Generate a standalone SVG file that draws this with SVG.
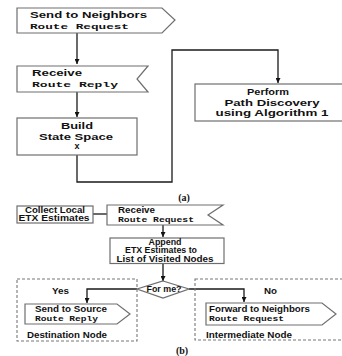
<svg xmlns="http://www.w3.org/2000/svg" width="342" height="356" viewBox="0 0 342 356">
<defs>
<marker id="ah" viewBox="0 0 6 6" refX="6" refY="3" markerWidth="5" markerHeight="5" orient="auto" markerUnits="userSpaceOnUse">
<path d="M0,0 L6,3 L0,6 z" fill="#111"/>
</marker>
<style>
.box{fill:#fff;stroke:#6e6e6e;stroke-width:1.2}
.dash{fill:none;stroke:#777;stroke-width:1.1;stroke-dasharray:3,2}
.ln{fill:none;stroke:#1a1a1a;stroke-width:1.3}
.t{font-family:"Liberation Sans",Arial,sans-serif;font-weight:bold;font-size:9px;fill:#111}
.m{font-family:"Liberation Mono","Courier New",monospace;font-weight:bold;font-size:8px;fill:#111}
.c{text-anchor:middle}
.cap{font-family:"Liberation Serif","Times New Roman",serif;font-weight:bold;font-size:10px;fill:#111;text-anchor:middle}
</style>
</defs>
<rect width="342" height="356" fill="#fff"/>
<g id="connectors">
<path class="ln" d="M77,33 V64" marker-end="url(#ah)"/>
<path class="ln" d="M77,92 V117" marker-end="url(#ah)"/>
<path class="ln" d="M77,155 V182 H172 V50 H278 V83" marker-end="url(#ah)"/>
<path class="ln" d="M93,214 H107"/>
<path class="ln" d="M163,225 V237" marker-end="url(#ah)"/>
<path class="ln" d="M163,263 V281" marker-end="url(#ah)"/>
<path class="ln" d="M137,289 H87 V303" marker-end="url(#ah)"/>
<path class="ln" d="M189,289 H244 V302" marker-end="url(#ah)"/>
</g>
<g id="send-neighbors">
<path class="box" d="M17,8 H162 L175,20 L162,33 H17 Z"/>
<text class="t" x="30" y="18" textLength="117" lengthAdjust="spacingAndGlyphs">Send to Neighbors</text>
<text class="m" x="30" y="29" textLength="99" lengthAdjust="spacingAndGlyphs">Route Request</text>
</g>
<g id="receive-reply">
<path class="box" d="M17,66 H148 L137,79 L148,92 H17 Z"/>
<text class="t" x="32" y="76" textLength="50" lengthAdjust="spacingAndGlyphs">Receive</text>
<text class="m" x="32" y="87" textLength="86" lengthAdjust="spacingAndGlyphs">Route Reply</text>
</g>
<g id="build">
<rect class="box" x="17" y="118" width="120" height="37"/>
<text class="t c" x="77" y="129" textLength="32" lengthAdjust="spacingAndGlyphs">Build</text>
<text class="t c" x="76" y="140" textLength="74" lengthAdjust="spacingAndGlyphs">State Space</text>
<text class="t c" x="77" y="149">x</text>
</g>
<g id="perform">
<rect class="box" x="195" y="84" width="150" height="37"/>
<text class="t c" x="268" y="95" textLength="42" lengthAdjust="spacingAndGlyphs">Perform</text>
<text class="t c" x="272" y="106" textLength="95" lengthAdjust="spacingAndGlyphs">Path Discovery</text>
<text class="t c" x="272" y="116" textLength="113" lengthAdjust="spacingAndGlyphs">using Algorithm 1</text>
</g>
<text class="cap" x="184" y="201">(a)</text>
<g id="collect">
<rect class="box" x="17" y="206" width="76" height="17"/>
<text class="t c" x="55" y="212.5" font-size="6.5" textLength="60" lengthAdjust="spacingAndGlyphs">Collect Local</text>
<text class="t c" x="54" y="221" font-size="6.5" textLength="71" lengthAdjust="spacingAndGlyphs">ETX Estimates</text>
</g>
<g id="receive-request">
<path class="box" d="M107,205 H223 L208,215 L223,225 H107 Z"/>
<text class="t" x="118" y="213" font-size="8" textLength="37" lengthAdjust="spacingAndGlyphs">Receive</text>
<text class="m" x="118" y="222" font-size="7" textLength="76" lengthAdjust="spacingAndGlyphs">Route Request</text>
</g>
<g id="append">
<rect class="box" x="110" y="238" width="114" height="25.5"/>
<text class="t c" x="165" y="244.5" font-size="6.5" textLength="33" lengthAdjust="spacingAndGlyphs">Append</text>
<text class="t c" x="161" y="253" font-size="6.5" textLength="72" lengthAdjust="spacingAndGlyphs">ETX Estimates to</text>
<text class="t c" x="165" y="261.5" font-size="6.5" textLength="97" lengthAdjust="spacingAndGlyphs">List of Visited Nodes</text>
</g>
<g id="for-me">
<path class="box" d="M163,281 L189,289 L163,298 L137,289 Z"/>
<text class="t c" x="164" y="292" font-size="8" textLength="35" lengthAdjust="spacingAndGlyphs">For me?</text>
</g>
<g id="destination">
<rect class="dash" x="17" y="279" width="120" height="62"/>
<text class="t" x="52" y="294" font-size="8" textLength="17" lengthAdjust="spacingAndGlyphs">Yes</text>
<path class="box" d="M25,304 H117 L130,314 L117,324 H25 Z"/>
<text class="t" x="35" y="312" font-size="8" textLength="72" lengthAdjust="spacingAndGlyphs">Send to Source</text>
<text class="m" x="35" y="321" font-size="7" textLength="63" lengthAdjust="spacingAndGlyphs">Route Reply</text>
<text class="t" x="27" y="338" font-size="8" textLength="80" lengthAdjust="spacingAndGlyphs">Destination Node</text>
</g>
<g id="intermediate">
<rect class="dash" x="195" y="279" width="160" height="61"/>
<text class="t" x="264" y="294" font-size="8" textLength="13" lengthAdjust="spacingAndGlyphs">No</text>
<path class="box" d="M206,303 H322 L336,314 L322,325 H206 Z"/>
<text class="t" x="209" y="312" font-size="8" textLength="101" lengthAdjust="spacingAndGlyphs">Forward to Neighbors</text>
<text class="m" x="209" y="321" font-size="7" textLength="75" lengthAdjust="spacingAndGlyphs">Route Request</text>
<text class="t" x="206" y="338" font-size="8" textLength="86" lengthAdjust="spacingAndGlyphs">Intermediate Node</text>
</g>
<text class="cap" x="182" y="354">(b)</text>
</svg>
